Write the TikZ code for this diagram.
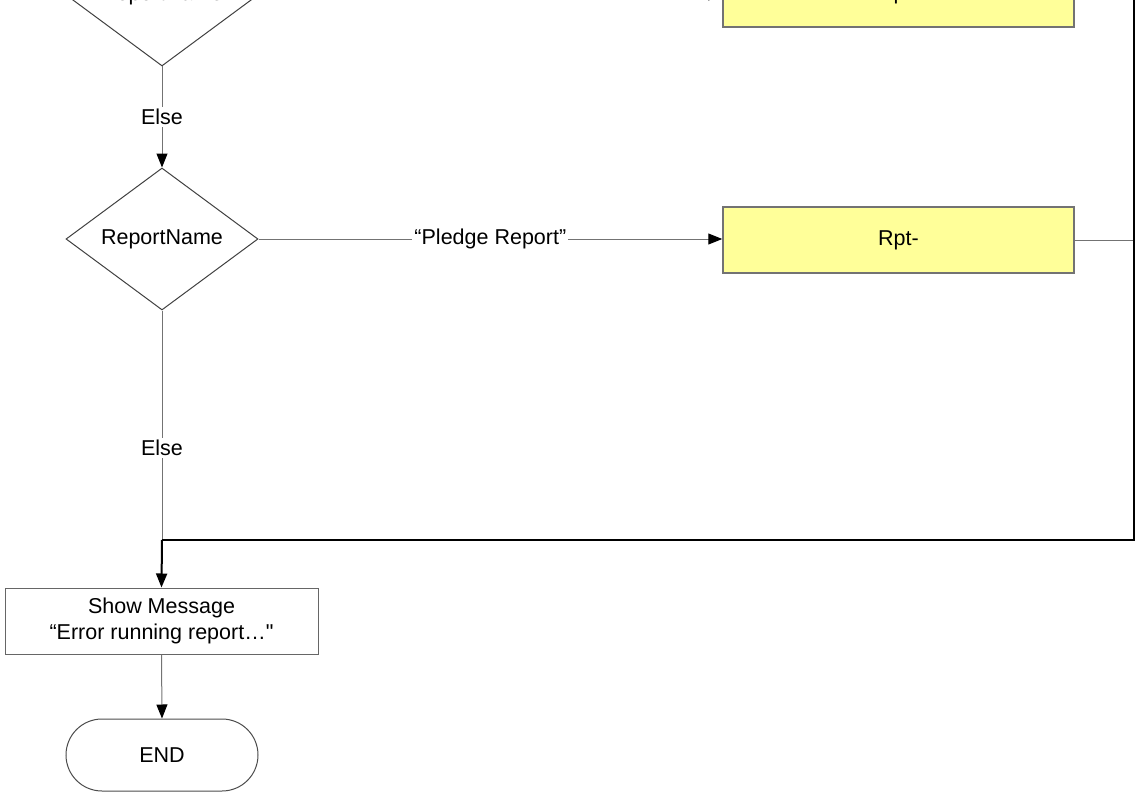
\documentclass[tikz,border=0pt]{standalone}
\usepackage{fontspec}
\setmainfont{Liberation Sans}
\usetikzlibrary{shapes.geometric,shapes.misc,arrows.meta}
\definecolor{rptyellow}{HTML}{FFFF99}
\begin{document}
\begin{tikzpicture}[x=1pt,y=-1pt,
  font=\fontsize{21.5}{25.5}\selectfont,
  dec/.style={diamond, draw=black!75, line width=1pt, aspect=1.35, minimum width=192pt, minimum height=142pt, inner sep=0pt},
  proc/.style={rectangle, draw=black!60, line width=1pt, fill=white, minimum width=313pt, minimum height=66pt, align=center, inner sep=0pt},
  rpt/.style={rectangle, draw=black!55, line width=1.5pt, fill=rptyellow, minimum width=351pt, minimum height=66pt, inner sep=0pt},
  term/.style={rounded rectangle, draw=black!70, line width=1pt, minimum width=192pt, minimum height=72pt, inner sep=0pt},
  conn/.style={draw=black!55, line width=1pt},
  ret/.style={draw=black, line width=2pt},
  tip/.style={-{Triangle[length=14pt,width=11pt,color=black]}},
  lbl/.style={fill=white, inner sep=2pt, text=black}]
\useasboundingbox (0,0) rectangle (1136,792);
\clip (0,0) rectangle (1136,792);

\node[dec] (d1) at (162,-5) {ReportName};
\node[dec] (d2) at (162,239) {ReportName};
\node[rpt] (b1) at (898.5,-6) {Rpt-};
\node[rpt] (b2) at (898.5,240) {Rpt-};
\node[proc] (msg) at (161.5,621) {Show Message\\“Error running report…\textquotedbl};
\node[term] (end) at (162,755) {END};

\coordinate (m) at (162,540);
\coordinate (r) at (1134,540);
\coordinate (rt) at (1134,-40);

\draw[conn,tip] (d1.south) -- node[lbl]{Else} (d2.north);
\draw[conn,tip] (d1.east) -- (d1.east -| b1.west);
\draw[conn,tip] (d2.east) -- node[lbl]{“Pledge Report”} (d2.east -| b2.west);
\draw[conn] (b1.east) -- (b1.east -| r);
\draw[conn] (b2.east) -- (b2.east -| r);
\draw[conn] (d2.south) -- node[lbl,pos=0.6]{Else} (m);
\draw[ret] (rt) -- (r) -- (m);
\draw[ret,tip] (m) -- (msg.north);
\draw[conn,tip] (msg.south) -- (end.north);
\end{tikzpicture}
\end{document}
